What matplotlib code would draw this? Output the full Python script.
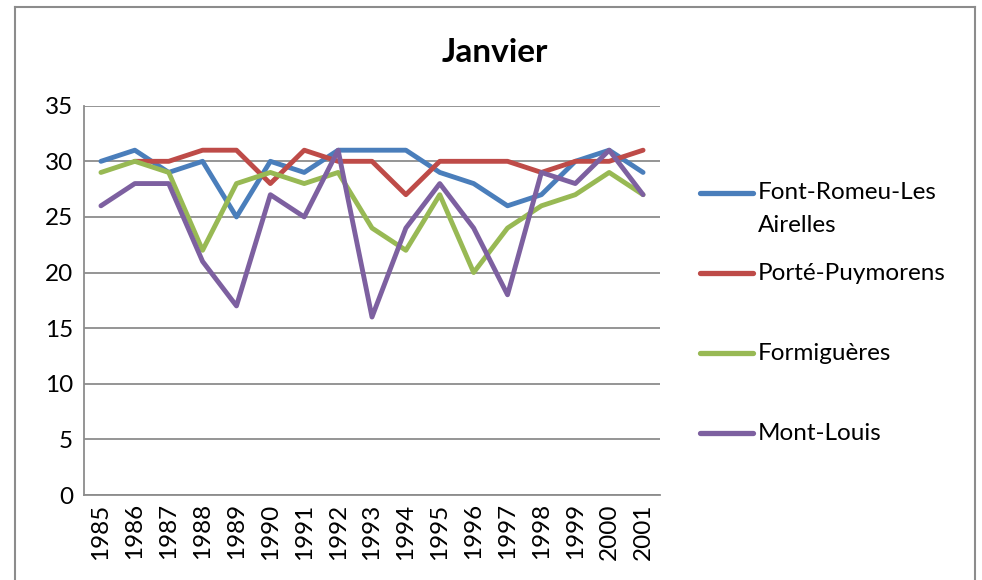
import numpy as np
import matplotlib
matplotlib.use("Agg")
import matplotlib.pyplot as plt
from matplotlib.lines import Line2D

plt.rcParams['font.family'] = ['Lato', 'DejaVu Sans']

years = ["1985", "1986", "1987", "1988", "1989", "1990", "1991", "1992", "1993",
         "1994", "1995", "1996", "1997", "1998", "1999", "2000", "2001"]

font_romeu = [30, 31, 29, 30, 25, 30, 29, 31, 31, 31, 29, 28, 26, 27, 30, 31, 29]
porte = [np.nan, 30, 30, 31, 31, 28, 31, 30, 30, 27, 30, 30, 30, 29, 30, 30, 31]
formigueres = [29, 30, 29, 22, 28, 29, 28, 29, 24, 22, 27, 20, 24, 26, 27, 29, 27]
mont_louis = [26, 28, 28, 21, 17, 27, 25, 31, 16, 24, 28, 24, 18, 29, 28, 31, 27]

series_names = ["Font-Romeu-Les\nAirelles", "Porté-Puymorens", "Formiguères", "Mont-Louis"]
series_values = [font_romeu, porte, formigueres, mont_louis]
colors = ["#4A7EBB", "#BE4B48", "#98B954", "#7D60A0"]

W, H = 982, 580
fig = plt.figure(figsize=(W / 100, H / 100), dpi=100)

ax = fig.add_axes([84 / W, 1 - 495 / H, (660 - 84) / W, (495 - 105.7) / H])
x = np.arange(len(years))
for vals, c in zip(series_values, colors):
    ax.plot(x, vals, color=c, lw=3.5, solid_joinstyle='round', solid_capstyle='round')

ax.set_xlim(-0.5, len(years) - 0.5)
ax.set_ylim(0, 35)
ax.set_yticks(range(0, 36, 5))
ax.set_xticks(x)
ax.set_xticklabels(years, rotation=90)
ax.tick_params(axis='both', length=0, labelsize=17.5, colors='black')
ax.tick_params(axis='y', pad=8)
ax.tick_params(axis='x', pad=6)
ax.grid(axis='y', color='#8C8C8C', lw=1.3)
ax.set_axisbelow(True)
for s in ['top', 'right']:
    ax.spines[s].set_visible(False)
for s in ['left', 'bottom']:
    ax.spines[s].set_color('#8C8C8C')
    ax.spines[s].set_linewidth(1.3)

fig.text(495 / W, 1 - 52 / H, "Janvier", ha='center', va='center',
         fontsize=24, fontweight='bold')

# legend drawn by hand to reproduce the spaced entries
legend_y = [193, 273, 353, 433]
for name, c, yy in zip(series_names, colors, legend_y):
    fy = 1 - yy / H
    fig.add_artist(Line2D([700 / W, 753 / W], [fy, fy], color=c, lw=3.8,
                          solid_capstyle='round', transform=fig.transFigure))
    for i, line in enumerate(name.split("\n")):
        fig.text(758 / W, 1 - (yy + 32 * i) / H, line, ha='left', va='center',
                 fontsize=17.5)

# chart frame
frame_kw = dict(color='#8C8C8C', lw=1.5, transform=fig.transFigure)
fig.add_artist(Line2D([15 / W, 975 / W], [1 - 7 / H, 1 - 7 / H], **frame_kw))
fig.add_artist(Line2D([15 / W, 15 / W], [0, 1 - 7 / H], **frame_kw))
fig.add_artist(Line2D([975 / W, 975 / W], [0, 1 - 7 / H], **frame_kw))

fig.savefig("out.png", dpi=100)
